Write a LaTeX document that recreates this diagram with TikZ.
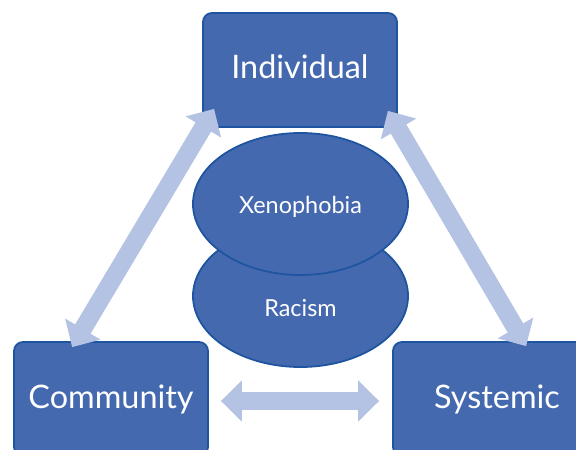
\documentclass[tikz,border=0pt]{standalone}
\usepackage{fontspec}
\setmainfont{Lato}
\usetikzlibrary{arrows.meta,shapes.geometric}
\definecolor{boxfill}{HTML}{4569AF}
\definecolor{boxline}{HTML}{1F55A0}
\definecolor{linkblue}{HTML}{B4C3E3}

\begin{document}
\begin{tikzpicture}[
  x=1bp, y=-1bp,
  level/.style={draw=boxline, line width=1.8bp, fill=boxfill, rounded corners=9bp,
                minimum width=194bp, minimum height=114bp, inner sep=0pt,
                text=white, font=\fontsize{32.5}{38}\selectfont},
  bias/.style={ellipse, draw=boxline, line width=1.8bp, fill=boxfill,
               minimum width=215bp, minimum height=142bp, inner sep=0pt,
               text=white, font=\fontsize{23.5}{28}\selectfont},
  link/.style={draw=linkblue, line width=18bp,
               {Triangle[width=40bp,length=21bp]}-{Triangle[width=40bp,length=21bp]}}]

\clip (0,0) rectangle (576,450);

\node (ind) [level] at (300,70) {\raisebox{6bp}{Individual}};
\node (com) [level] at (111,399) {Community};
\node (sys) [level] at (490,399) {\hspace{14bp}Systemic};

\node (rac) [bias] at (300.5,296) {\raisebox{-20bp}[0pt][0pt]{Racism}};
\node (xen) [bias] at (300.5,204) {\raisebox{-10bp}[0pt][0pt]{Xenophobia}};

\draw[link] ([shift={(12,-19)}]ind.south west) -- ([shift={(59,6)}]com.north west);
\draw[link] ([shift={(-10,-17)}]ind.south east) -- ([shift={(134,5)}]sys.north west);
\draw[link] ([shift={(12,2)}]com.east) -- ([shift={(-13,2)}]sys.west);
\end{tikzpicture}
\end{document}
